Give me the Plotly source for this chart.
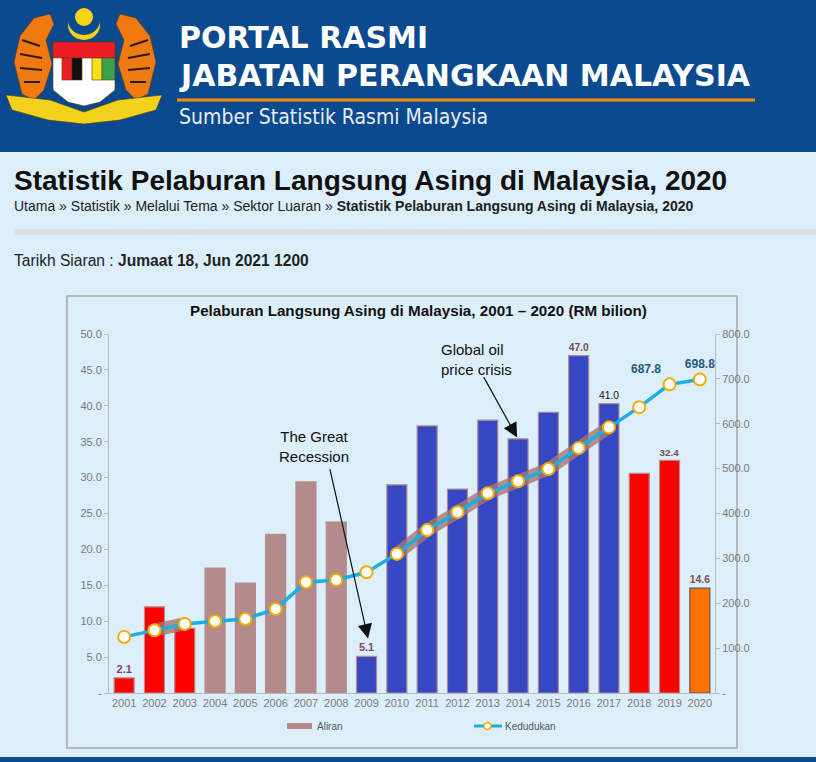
import plotly.graph_objects as go

# Data: Pelaburan Langsung Asing di Malaysia, 2001 - 2020 (RM bilion)
years = list(range(2001, 2021))
aliran = [2.1, 12.0, 9.0, 17.4, 15.3, 22.1, 29.4, 23.8, 5.1, 29.0,
          37.2, 28.4, 38.0, 35.4, 39.1, 47.0, 40.3, 30.6, 32.4, 14.6]
kedudukan = [125, 140, 154, 160, 165, 187, 247, 252, 269, 310,
             363, 403, 445, 472, 499, 546, 592, 637, 687.8, 698.8]
bar_labels = ["2.1", "", "", "", "", "", "", "", "5.1", "",
              "", "", "", "", "", "47.0", "41.0", "", "32.4", "14.6"]
line_labels = [""] * 18 + ["687.8", "698.8"]
left_ticks = [0, 5, 10, 15, 20, 25, 30, 35, 40, 45, 50]
left_ticktext = ["-", "5.0", "10.0", "15.0", "20.0", "25.0", "30.0", "35.0", "40.0", "45.0", "50.0"]
right_ticks = [0, 100, 200, 300, 400, 500, 600, 700, 800]
right_ticktext = ["-", "100.0", "200.0", "300.0", "400.0", "500.0", "600.0", "700.0", "800.0"]

RED, MAUVE, BLUE, ORANGE = "#ff0000", "#b48a8c", "#3647c4", "#ff7200"
bar_colors = [RED] * 3 + [MAUVE] * 5 + [BLUE] * 9 + [RED] * 2 + [ORANGE]
edge_colors = [MAUVE] * 19 + ["#6b4f52"]
label_colors = ["#7b4b57"] * 16 + ["#111111"] + ["#7b4b57"] * 3
label_sizes = [11] * 16 + [15] + [11, 11, 13]
# 41.0 is printed plain, the other bar values bold
bar_text = [t if t in ("", "41.0") else "<b>" + t + "</b>" for t in bar_labels]

W, H = 816, 762
BG = "#ddeefb"
NAVY = "#0b4a8e"


def px(x):
    return x / W


def py(y):
    return 1 - y / H


def path(points, close=True):
    s = "M " + " L ".join("%.5f,%.5f" % (px(x), py(y)) for x, y in points)
    return s + (" Z" if close else "")


fig = go.Figure()

fig.add_trace(go.Bar(
    x=years, y=aliran, width=0.66,
    marker=dict(color=bar_colors, line=dict(color=edge_colors, width=1.2)),
    text=bar_text, textposition="outside", cliponaxis=False,
    textfont=dict(color=label_colors, size=label_sizes, family="Liberation Sans"),
    name="Aliran", showlegend=False, yaxis="y"))

# soft brown glow around the line where it crosses the bars
for a, b in [(1, 3), (9, 17)]:
    fig.add_trace(go.Scatter(
        x=years[a:b], y=kedudukan[a:b], mode="lines", yaxis="y2",
        line=dict(color="rgba(168,118,112,0.8)", width=13),
        hoverinfo="skip", showlegend=False))

fig.add_trace(go.Scatter(
    x=years, y=kedudukan, mode="lines+markers+text", yaxis="y2",
    line=dict(color="#1aaee2", width=3.5),
    marker=dict(size=12, color="white", line=dict(color="#f2ad00", width=2)),
    text=line_labels, textposition=["top center"] * 18 + ["top left", "top center"],
    textfont=dict(color="#1f5a7a", size=12, family="Liberation Sans"),
    texttemplate="<b>%{text}</b>", cliponaxis=False,
    name="Kedudukan", showlegend=False))

tickfont = dict(family="Liberation Sans", size=11, color="#7a7a7a")
fig.update_layout(
    width=W, height=H, margin=dict(l=0, r=0, t=0, b=0, pad=0, autoexpand=False),
    paper_bgcolor=BG, plot_bgcolor="rgba(0,0,0,0)",
    showlegend=False, bargap=0.3,
    xaxis=dict(domain=[px(109), px(715)], range=[2000.5, 2020.5], automargin=False,
               tickvals=years, ticktext=[str(y) for y in years],
               tickfont=tickfont, showgrid=False, zeroline=False,
               showline=True, linecolor="#b9b9b9", ticks="", anchor="y"),
    yaxis=dict(domain=[py(693), py(334)], range=[0, 50], automargin=False,
               tickvals=left_ticks, ticktext=left_ticktext, tickfont=tickfont,
               showgrid=False, zeroline=False, showline=True, linecolor="#b9b9b9",
               ticks="outside", ticklen=4, tickcolor="#b9b9b9"),
    yaxis2=dict(domain=[py(693), py(334)], range=[0, 800], overlaying="y",
                side="right", anchor="x", automargin=False,
                tickvals=right_ticks, ticktext=right_ticktext, tickfont=tickfont,
                showgrid=False, zeroline=False, showline=True, linecolor="#b9b9b9",
                ticks="outside", ticklen=4, tickcolor="#b9b9b9"),
)

P = dict(xref="paper", yref="paper")
shapes = [
    # header band
    dict(type="rect", x0=0, x1=1, y0=py(152), y1=1, fillcolor=NAVY, line_width=0, layer="below", **P),
    dict(type="line", x0=px(177), x1=px(755), y0=py(100), y1=py(100),
         line=dict(color="#ff8c00", width=3), **P),
    # separator
    dict(type="line", x0=px(14), x1=1, y0=py(232), y1=py(232),
         line=dict(color="#dde1e4", width=6), **P),
    # chart frame
    dict(type="rect", x0=px(67), x1=px(737), y0=py(748), y1=py(296),
         line=dict(color="#a8a8a8", width=1.5), fillcolor="rgba(0,0,0,0)", layer="below", **P),
    # legend marks
    dict(type="rect", x0=px(287), x1=px(312), y0=py(729), y1=py(723),
         fillcolor=MAUVE, line_width=0, **P),
    dict(type="line", x0=px(474), x1=px(502), y0=py(726), y1=py(726),
         line=dict(color="#1aaee2", width=3), **P),
    dict(type="circle", x0=px(484), x1=px(491), y0=py(729.5), y1=py(722.5),
         fillcolor="white", line=dict(color="#f2ad00", width=1.5), **P),
    # bottom strip
    dict(type="rect", x0=0, x1=1, y0=0, y1=py(757), fillcolor=NAVY, line_width=0, **P),
]

# rough coat of arms in the header
emblem = [
    # tigers
    (path([(34, 18), (50, 14), (54, 24), (46, 40), (52, 64), (44, 90), (34, 100), (22, 94),
           (14, 62), (20, 36)]), "#f07a10"),
    (path([(136, 18), (120, 14), (116, 24), (124, 40), (118, 64), (126, 90), (136, 100),
           (148, 94), (156, 62), (150, 36)]), "#f07a10"),
    # ribbon
    (path([(6, 95), (50, 100), (84, 112), (118, 100), (162, 95), (156, 110), (120, 120),
           (84, 124), (48, 120), (12, 110)]), "#f2d21c"),
    # shield
    (path([(53, 42), (115, 42), (115, 90), (100, 102), (84, 106), (68, 102), (53, 90)]), "white"),
    (path([(53, 42), (115, 42), (115, 58), (53, 58)]), "#ee1c24"),
    (path([(62, 58), (72, 58), (72, 80), (62, 80)]), "#ee1c24"),
    (path([(72, 58), (82, 58), (82, 80), (72, 80)]), "#111111"),
    (path([(92, 58), (102, 58), (102, 80), (92, 80)]), "#f7e017"),
    (path([(102, 58), (115, 58), (115, 80), (102, 80)]), "#3aa24a"),
]
for d, c in emblem:
    shapes.append(dict(type="path", path=d, fillcolor=c, line=dict(color="#5a3a10", width=0.6), **P))
# tiger stripes
for x0, y0, x1, y1 in [(22, 40, 40, 46), (20, 54, 42, 58), (20, 68, 42, 70), (24, 82, 40, 82),
                       (148, 40, 130, 46), (150, 54, 128, 58), (150, 68, 128, 70), (146, 82, 130, 82)]:
    shapes.append(dict(type="line", x0=px(x0), x1=px(x1), y0=py(y0), y1=py(y1),
                       line=dict(color="#2a1a08", width=2), **P))
shapes += [
    dict(type="circle", x0=px(68), x1=px(100), y0=py(40), y1=py(10), fillcolor="#f2d21c",
         line_width=0, **P),
    dict(type="circle", x0=px(68), x1=px(100), y0=py(35), y1=py(5), fillcolor=NAVY,
         line_width=0, **P),
    dict(type="circle", x0=px(75), x1=px(93), y0=py(26), y1=py(8), fillcolor="#f7d417",
         line_width=0, **P),
]
fig.update_layout(shapes=shapes)


def note(x, y, text, size, color="#111111", family="Liberation Sans",
         xanchor="left", align="left"):
    fig.add_annotation(xref="paper", yref="paper", x=px(x), y=py(y), text=text,
                       showarrow=False, xanchor=xanchor, yanchor="middle", align=align,
                       font=dict(size=size, color=color, family=family))


note(177, 38, "<b>PORTAL RASMI</b>", 30, "white", "DejaVu Sans")
note(177, 75, "<b>JABATAN PERANGKAAN MALAYSIA</b>", 30, "white", "DejaVu Sans")
note(177, 117, "Sumber Statistik Rasmi Malaysia", 21, "#e8eef5", "DejaVu Sans Condensed")

note(12, 180, "<b>Statistik Pelaburan Langsung Asing di Malaysia, 2020</b>", 28)
note(12, 206, "Utama » Statistik » Melalui Tema » Sektor Luaran » "
              "<b>Statistik Pelaburan Langsung Asing di Malaysia, 2020</b>", 14, "#222222")
note(12, 260, "Tarikh Siaran : <b>Jumaat 18, Jun 2021 1200</b>", 15.6, "#222222")

note(419, 310, "<b>Pelaburan Langsung Asing di Malaysia, 2001 \u2013 2020 (RM bilion)</b>",
     15.2, xanchor="center")
note(315, 726, "Aliran", 10, "#555555")
note(503, 726, "Kedudukan", 10, "#555555")

# event call-outs
fig.add_annotation(x=2007.25, y=34.3, xref="x", yref="y", text="The Great<br>Recession",
                   showarrow=False, font=dict(size=15, color="#111111", family="Liberation Sans"))
fig.add_annotation(x=2009.05, y=7.6, xref="x", yref="y", ax=2007.78, ay=31.4,
                   axref="x", ayref="y", text="", showarrow=True,
                   arrowhead=2, arrowsize=2.4, arrowwidth=1.2, arrowcolor="#111111")
fig.add_annotation(x=2011.4, y=46.4, xref="x", yref="y", text="Global oil<br>price crisis",
                   showarrow=False, xanchor="left", align="left",
                   font=dict(size=15, color="#111111", family="Liberation Sans"))
fig.add_annotation(x=2013.97, y=35.6, xref="x", yref="y", ax=2012.84, ay=44.2,
                   axref="x", ayref="y", text="", showarrow=True,
                   arrowhead=2, arrowsize=2.4, arrowwidth=1.2, arrowcolor="#111111")

page_css = ("var s=document.createElement('style');"
            "s.textContent='html,body{margin:0;padding:0;overflow:hidden;}"
            "body>div{line-height:0;}';"
            "document.head.appendChild(s);")
fig.write_html("out.html", config={"displayModeBar": False}, post_script=page_css)
